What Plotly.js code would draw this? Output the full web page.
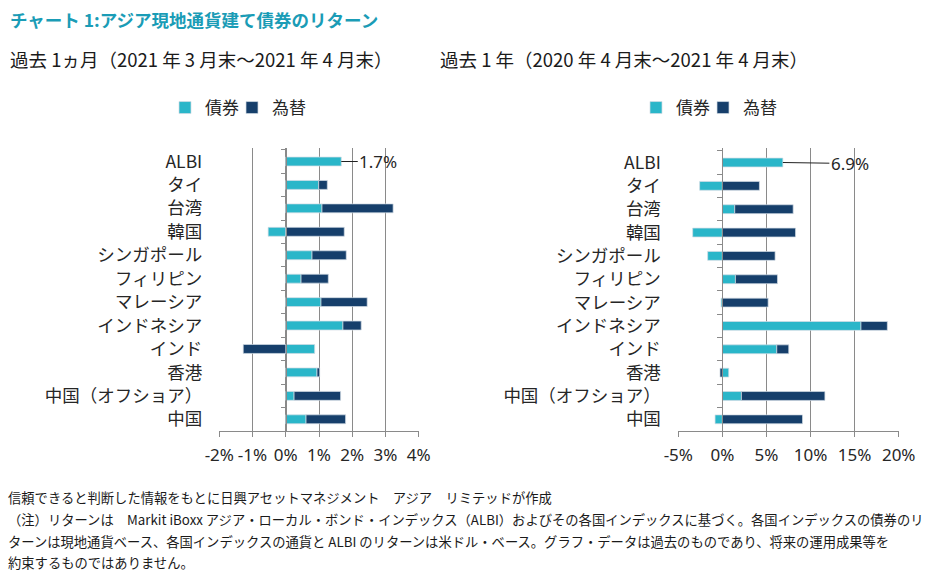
<!DOCTYPE html>
<html><head><meta charset="utf-8">
<script src="https://cdn.plot.ly/plotly-3.0.1.min.js"></script>
<style>body{margin:0;background:#fff}</style>
</head><body><div id="chart" style="width:936px;height:576px"></div>
<script>
const categories = ['ALBI','タイ','台湾','韓国','シンガポール','フィリピン','マレーシア','インドネシア','インド','香港','中国（オフショア）','中国'];
const bond1m = [1.67,0.99,1.09,-0.53,0.79,0.46,1.06,1.72,0.87,0.94,0.25,0.61];
const fx1m = [null,0.26,2.14,1.76,1.03,0.82,1.39,0.55,-1.28,0.08,1.40,1.19];
const bond1y = [6.86,-2.58,1.40,-3.37,-1.67,1.48,-0.15,15.72,6.17,0.72,2.16,-0.83];
const fx1y = [null,4.20,6.63,8.30,5.98,4.77,5.19,2.99,1.36,-0.27,9.47,9.09];
const ticks1m = [-2,-1,0,1,2,3,4];
const ticks1y = [-5,0,5,10,15,20];
const seriesNames = ['債券','為替'];
const title = 'チャート 1:アジア現地通貨建て債券のリターン';
const sub1 = '過去 1ヵ月（2021 年 3 月末～2021 年 4 月末）';
const sub2 = '過去 1 年（2020 年 4 月末～2021 年 4 月末）';
const notes = ['信頼できると判断した情報をもとに日興アセットマネジメント　アジア　リミテッドが作成',
 '（注）リターンは　Markit iBoxx アジア・ローカル・ボンド・インデックス（ALBI）およびその各国インデックスに基づく。各国インデックスの債券のリ',
 'ターンは現地通貨ベース、各国インデックスの通貨と ALBI のリターンは米ドル・ベース。グラフ・データは過去のものであり、将来の運用成果等を',
 '約束するものではありません。'];

const cBond = '#2ab6c9', cFx = '#163f6b', grey = '#8a8a8a', txt = '#262626';
const jp = '"Noto Sans CJK JP", "Noto Sans", sans-serif';
const W = 936, H = 576;
const xd1 = [219.3/W, 418.7/W], xd2 = [678.3/W, 898.7/W];
const yd = [(H-431)/H, (H-148)/H];
const xr1 = [-2,4], xr2 = [-5,20];
function zeroPos(d, r){ return d[0] + (0-r[0])/(r[1]-r[0])*(d[1]-d[0]); }

const lineStyle = {color:'rgba(210,220,228,0.9)', width:0.8};
const traces = [
 {type:'bar', orientation:'h', y:categories, x:bond1m, name:seriesNames[0], marker:{color:cBond, line:lineStyle}, xaxis:'x', yaxis:'y', legend:'legend', legendwidth:22},
 {type:'bar', orientation:'h', y:categories, x:fx1m, name:seriesNames[1], marker:{color:cFx, line:lineStyle}, xaxis:'x', yaxis:'y', legend:'legend', legendwidth:42},
 {type:'bar', orientation:'h', y:categories, x:bond1y, name:seriesNames[0], marker:{color:cBond, line:lineStyle}, xaxis:'x2', yaxis:'y2', legend:'legend2', legendwidth:22},
 {type:'bar', orientation:'h', y:categories, x:fx1y, name:seriesNames[1], marker:{color:cFx, line:lineStyle}, xaxis:'x2', yaxis:'y2', legend:'legend2', legendwidth:42}
];

function xax(d, r, tv, anchor){
  return {domain:d, range:r, tickmode:'array', tickvals:tv, ticktext:tv.map(v=>v+'%'), tickangle:0, anchor:anchor, showline:true, linecolor:grey, linewidth:1,
    ticks:'outside', ticklen:5, tickcolor:grey, showgrid:true, gridcolor:grey, gridwidth:1, zeroline:false, ticklabelstandoff:4,
    tickfont:{family:'"Noto Sans", sans-serif', size:17, color:txt}, fixedrange:true};
}
function yax(pos, standoff){
  return {domain:yd, anchor:'free', position:pos, type:'category', autorange:'reversed', showline:true, linecolor:grey,
    ticks:'outside', tickson:'boundaries', ticklen:5, tickcolor:grey, showgrid:false, zeroline:false,
    ticklabelstandoff:standoff, tickfont:{family:jp, size:17.5, color:txt}, fixedrange:true};
}
const ann = [
 {xref:'paper', yref:'paper', x:8/W, y:1-20/H, xanchor:'left', yanchor:'middle', showarrow:false, text:'<b>'+title+'</b>', font:{family:jp, size:17.5, color:'#1a9cb6'}},
 {xref:'paper', yref:'paper', x:8/W, y:1-59/H, xanchor:'left', yanchor:'middle', showarrow:false, text:sub1, font:{family:jp, size:18.5, color:'#1a1a1a'}},
 {xref:'paper', yref:'paper', x:438/W, y:1-59/H, xanchor:'left', yanchor:'middle', showarrow:false, text:sub2, font:{family:jp, size:18.5, color:'#1a1a1a'}},
 {xref:'x', yref:'y', x:bond1m[0], y:categories[0], text:bond1m[0].toFixed(1)+'%', showarrow:true, arrowhead:0, arrowwidth:1, arrowcolor:'#222', ax:37, ay:0, font:{family:'"Noto Sans", sans-serif', size:17, color:txt}},
 {xref:'x2', yref:'y2', x:bond1y[0], y:categories[0], text:bond1y[0].toFixed(1)+'%', showarrow:true, arrowhead:0, arrowwidth:1, arrowcolor:'#222', ax:67, ay:1, font:{family:'"Noto Sans", sans-serif', size:17, color:txt}}
];
const noteY = [497, 519, 541, 562];
notes.forEach((t,i)=>ann.push({xref:'paper', yref:'paper', x:6/W, y:1-noteY[i]/H, xanchor:'left', yanchor:'middle', showarrow:false, text:t, font:{family:jp, size:13.3, color:'#1a1a1a'}}));

const legStyle = (x)=>({orientation:'h', x:x, y:1-108/H, xanchor:'left', yanchor:'middle', font:{family:jp, size:17, color:txt}, itemwidth:30, bgcolor:'rgba(0,0,0,0)', traceorder:'normal'});
const layout = {
  width:W, height:H, margin:{l:0,r:0,t:0,b:0}, paper_bgcolor:'#fff', plot_bgcolor:'#fff',
  barmode:'relative', bargap:0.62, showlegend:true,
  xaxis: xax(xd1, xr1, ticks1m, 'y'), yaxis: yax(zeroPos(xd1, xr1), 80),
  xaxis2: xax(xd2, xr2, ticks1y, 'y2'), yaxis2: yax(zeroPos(xd2, xr2), 58),
  legend: legStyle(165/W), legend2: legStyle(636/W),
  annotations: ann
};
Plotly.newPlot('chart', traces, layout, {displayModeBar:false, staticPlot:true});
</script></body></html>
